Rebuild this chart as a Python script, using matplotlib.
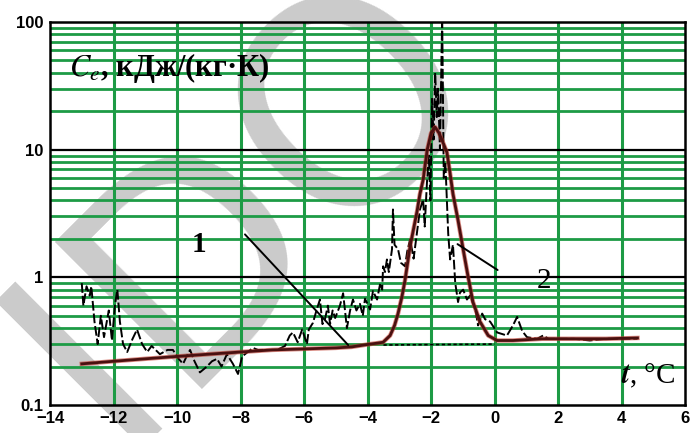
import matplotlib.pyplot as plt
from matplotlib.ticker import FixedLocator, NullFormatter

# experimental curve 1 (noisy)
t_exp = [-13.0, -12.95, -12.85, -12.75, -12.7, -12.6, -12.5, -12.4, -12.3, -12.15,
         -12.05, -11.95, -11.88, -11.8, -11.7, -11.57, -11.4, -11.26, -11.1, -10.94,
         -10.8, -10.54, -10.3, -10.13, -9.95, -9.81, -9.7, -9.59, -9.45, -9.28,
         -9.06, -8.9, -8.74, -8.6, -8.43, -8.24, -8.08, -7.95, -7.86, -7.61,
         -7.45, -7.29, -7.0, -6.85, -6.6, -6.45, -6.35, -6.2, -6.06, -5.91,
         -5.85, -5.72, -5.6, -5.5, -5.42, -5.34, -5.25, -5.18, -5.1, -5.02,
         -4.87, -4.77, -4.65, -4.55, -4.46, -4.35, -4.24, -4.15, -4.08, -3.92,
         -3.83, -3.7, -3.6, -3.54, -3.51, -3.45, -3.39, -3.33, -3.23, -3.2,
         -3.15, -3.04, -2.95, -2.82, -2.75, -2.66, -2.55, -2.44, -2.35, -2.25,
         -2.2, -2.13, -2.07, -2.02, -1.97, -1.92, -1.87, -1.82, -1.78, -1.72,
         -1.65, -1.6, -1.55, -1.5, -1.46, -1.4, -1.31, -1.24, -1.15, -1.09,
         -0.99, -0.87, -0.77, -0.6, -0.52, -0.39, -0.3, -0.14, 0.08, 0.39,
         0.58, 0.71, 0.87, 1.02, 1.34, 1.53, 1.7, 2.5, 3.0, 3.5, 4.5]
c_exp = [0.9, 0.6, 0.85, 0.72, 0.85, 0.45, 0.3, 0.5, 0.34, 0.55,
         0.32, 0.62, 0.8, 0.45, 0.3, 0.26, 0.33, 0.39, 0.3, 0.26,
         0.29, 0.25, 0.27, 0.27, 0.23, 0.21, 0.24, 0.27, 0.22, 0.18,
         0.2, 0.22, 0.23, 0.2, 0.25, 0.21, 0.175, 0.24, 0.25, 0.28,
         0.27, 0.27, 0.27, 0.27, 0.29, 0.35, 0.37, 0.31, 0.39, 0.3,
         0.39, 0.44, 0.56, 0.67, 0.43, 0.47, 0.6, 0.43, 0.55, 0.48,
         0.6, 0.75, 0.4, 0.55, 0.67, 0.55, 0.62, 0.5, 0.68, 0.56,
         0.78, 0.67, 0.9, 0.8, 1.22, 1.1, 1.38, 1.1, 1.66, 3.4,
         1.8, 1.66, 1.3, 1.22, 1.6, 1.98, 1.4, 2.3, 3.4, 4.07,
         2.5, 5.5, 9.0, 4.0, 25.0, 12.0, 40.0, 18.0, 30.0, 10.0,
         110.0, 6.0, 8.0, 4.0, 2.2, 1.38, 1.8, 0.91, 0.64, 0.76,
         0.8, 0.67, 0.72, 0.55, 0.42, 0.52, 0.47, 0.45, 0.37, 0.35,
         0.42, 0.49, 0.38, 0.34, 0.33, 0.35, 0.33, 0.33, 0.32, 0.33, 0.33]

# smoothed curve 2
t_fit = [-13.0, -12.0, -11.0, -10.0, -9.0, -8.0, -7.0, -6.0, -5.0, -4.5,
         -3.92, -3.7, -3.51, -3.29, -3.15, -3.04, -2.92, -2.82, -2.66, -2.55,
         -2.44, -2.35, -2.25, -2.12, -2.0, -1.87, -1.75, -1.6, -1.5, -1.4,
         -1.31, -1.15, -0.99, -0.83, -0.68, -0.46, -0.2, 0.08, 0.58, 1.5,
         2.5, 3.5, 4.5]
c_fit = [0.21, 0.22, 0.23, 0.24, 0.25, 0.26, 0.27, 0.275, 0.28, 0.285,
         0.3, 0.305, 0.31, 0.35, 0.42, 0.52, 0.7, 0.95, 1.75, 2.4,
         3.3, 4.5, 5.8, 10.0, 13.5, 15.0, 13.5, 11.0, 9.5, 6.5,
         4.5, 2.8, 1.66, 1.0, 0.64, 0.45, 0.35, 0.32, 0.32, 0.33,
         0.33, 0.33, 0.335]

# dashed base line under the peak
t_base = [-3.5, 0.0]
c_base = [0.295, 0.3]

x_ticks = [-14, -12, -10, -8, -6, -4, -2, 0, 2, 4, 6]
y_ticks = [0.1, 1, 10, 100]
y_ticklabels = ['0.1', '1', '10', '100']

GREEN = '#1d9b45'

plt.rcParams['mathtext.fontset'] = 'stix'
fig = plt.figure(figsize=(6.92, 4.33), dpi=100)

# faint watermark, behind the grid
fig.text(0.355, 0.525, 'IDO', fontsize=205, color='#cbcbcb',
         rotation=45, ha='center', va='center', zorder=-1)

ax = fig.add_axes([0.0723, 0.0647, 0.9177, 0.8845])
ax.set_facecolor('none')
ax.set_yscale('log')
ax.set_xlim(-14, 6)
ax.set_ylim(0.1, 100)

# grid: green minor lines, black decades
minor = [m * 10.0 ** e for e in (-1, 0, 1) for m in range(2, 10)]
for v in minor:
    ax.axhline(v, color=GREEN, lw=2.0, zorder=1)
for v in (1, 10):
    ax.axhline(v, color='black', lw=1.6, zorder=1.5)
for x in x_ticks[1:-1]:
    ax.axvline(x, color=GREEN, lw=2.2, zorder=1)

ax.plot(t_base, c_base, color='black', lw=1.2, ls=(0, (2, 1.5)), zorder=3)
ax.plot(t_exp, c_exp, color='black', lw=1.4, ls=(0, (5, 1.5)), zorder=3)
ax.plot(t_fit, c_fit, color='#c0392b', lw=3.2, alpha=0.6, zorder=4)
ax.plot(t_fit, c_fit, color='#4a1010', lw=2.0, zorder=4)

ax.xaxis.set_major_locator(FixedLocator(x_ticks))
ax.yaxis.set_major_locator(FixedLocator(y_ticks))
ax.set_yticklabels(y_ticklabels)
ax.yaxis.set_minor_formatter(NullFormatter())
ax.tick_params(which='both', length=0, labelsize=12)
ax.tick_params(axis='x', pad=4)
ax.tick_params(axis='y', pad=5)
for lab in ax.get_xticklabels() + ax.get_yticklabels():
    lab.set_fontweight('bold')
    lab.set_family('Liberation Sans')
for s in ax.spines.values():
    s.set_linewidth(1.8)
    s.set_zorder(6)

ax.text(0.03, 0.88, r'$C_e$, кДж/(кг·К)', transform=ax.transAxes,
        fontsize=22, family='Liberation Serif', fontweight='bold', va='center', zorder=7)
ax.text(0.985, 0.04, r'$\boldsymbol{t}$, °C', transform=ax.transAxes, ha='right', va='bottom',
        fontsize=21, family='Liberation Serif', zorder=7)

ax.annotate('', xy=(-4.55, 0.284), xytext=(-7.92, 2.25),
            arrowprops=dict(arrowstyle='-', color='black', lw=1.4), zorder=5)
ax.annotate('', xy=(0.17, 1.11), xytext=(-1.24, 1.87),
            arrowprops=dict(arrowstyle='-', color='black', lw=1.4), zorder=5)
ax.text(-9.3, 1.8, '1', fontsize=21, family='Liberation Serif', fontweight='bold',
        ha='center', va='center', zorder=7)
ax.text(1.55, 0.93, '2', fontsize=21, family='Liberation Serif',
        ha='center', va='center', zorder=7)

fig.savefig('out.png', dpi=100)
